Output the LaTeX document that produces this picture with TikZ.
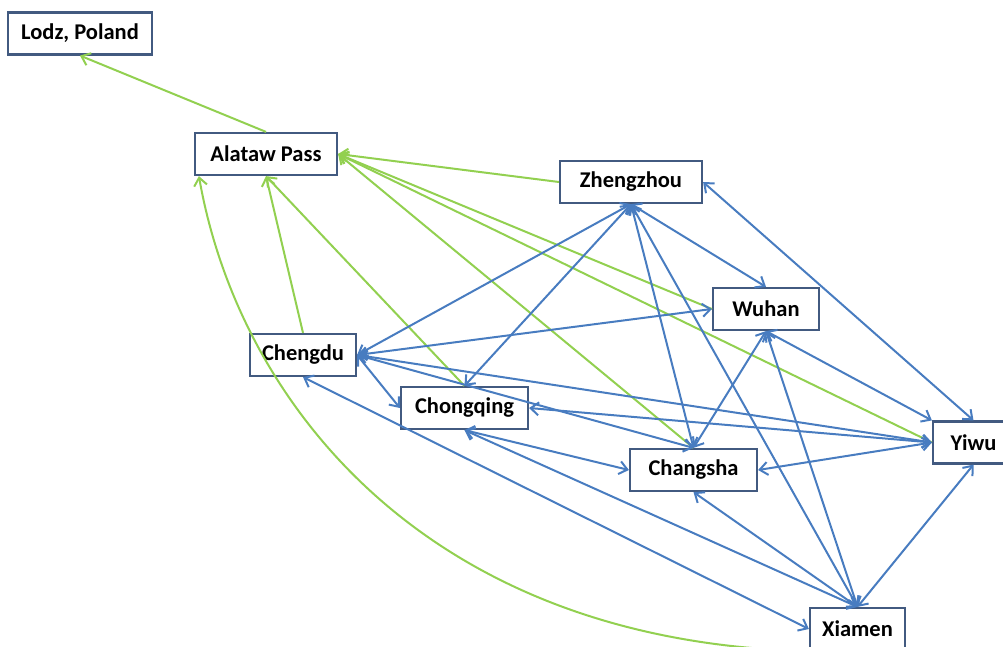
\documentclass[tikz,border=0pt]{standalone}
\usepackage{fontspec}
\setmainfont{Carlito}
\usetikzlibrary{arrows.meta}
\definecolor{linkblue}{RGB}{72,124,192}
\definecolor{linkgreen}{RGB}{146,208,80}
\definecolor{boxedge}{RGB}{66,90,128}
\begin{document}
\begin{tikzpicture}[x=1pt,y=-1pt,
  city/.style={draw=boxedge, line width=2.2pt, fill=white, minimum height=42pt,
    inner sep=0pt, font=\fontsize{22.5}{26}\selectfont\bfseries},
  road/.style={draw=linkblue, line width=2pt,
    arrows={Straight Barb[length=8pt,width=13pt]-Straight Barb[length=8pt,width=13pt]}},
  rail/.style={draw=linkgreen, line width=2pt,
    arrows={-Straight Barb[length=8pt,width=13pt]}}]
\useasboundingbox (0,0) rectangle (1003,647);

% cities
\node[city, minimum width=144pt] (lodz) at (80,33.5)    {Lodz, Poland};
\node[city, minimum width=142pt] (ala)  at (266,154)    {Alataw Pass};
\node[city, minimum width=142pt] (zhe)  at (631,182)    {Zhengzhou};
\node[city, minimum width=106pt] (wuh)  at (766,309)    {Wuhan};
\node[city, minimum width=106pt] (che)  at (303,355)    {Chengdu};
\node[city, minimum width=127pt] (cho)  at (464.5,408)  {Chongqing};
\node[city, minimum width=127pt] (cha)  at (693.5,470)  {Changsha};
\node[city, minimum width=81pt]  (yiw)  at (973.5,442.5){Yiwu};
\node[city, minimum width=95pt]  (xia)  at (857.5,629)  {Xiamen};

% westbound rail links through Alataw Pass
\draw[rail] (ala.north) -- (lodz.south);
\draw[rail] (zhe.west) -- (ala.east);
\draw[rail] (wuh.west) -- (ala.east);
\draw[rail] (yiw.west) -- (ala.east);
\draw[rail] (cha.north) -- (ala.east);
\draw[rail] (cho.north) -- (ala.south);
\draw[rail] (che.north) -- (ala.south);
\draw[rail] (xia.south) .. controls (440,662) and (240,410) .. ([xshift=5pt]ala.south west);

% domestic two-way links
\draw[road] (zhe.south) -- (che.east);
\draw[road] (zhe.south) -- (cho.north);
\draw[road] (zhe.south) -- (wuh.north);
\draw[road] (zhe.south) -- (cha.north);
\draw[road] (zhe.south) -- (xia.north);
\draw[road] (zhe.east)  -- (yiw.north);
\draw[road] (che.east)  -- (wuh.west);
\draw[road] (che.east)  -- (cho.west);
\draw[road] (che.east)  -- (yiw.west);
\draw[road] (che.east)  -- (cha.north);
\draw[road] (che.south) -- (xia.west);
\draw[road] (cho.east)  -- (yiw.west);
\draw[road] (cho.south) -- (cha.west);
\draw[road] (cho.south) -- (xia.north);
\draw[road] (wuh.south) -- (cha.north);
\draw[road] (wuh.south) -- (xia.north);
\draw[road] (wuh.south) -- (yiw.north west);
\draw[road] (cha.east)  -- (yiw.west);
\draw[road] (cha.south) -- (xia.north);
\draw[road] (xia.north) -- (yiw.south);
\end{tikzpicture}
\end{document}
